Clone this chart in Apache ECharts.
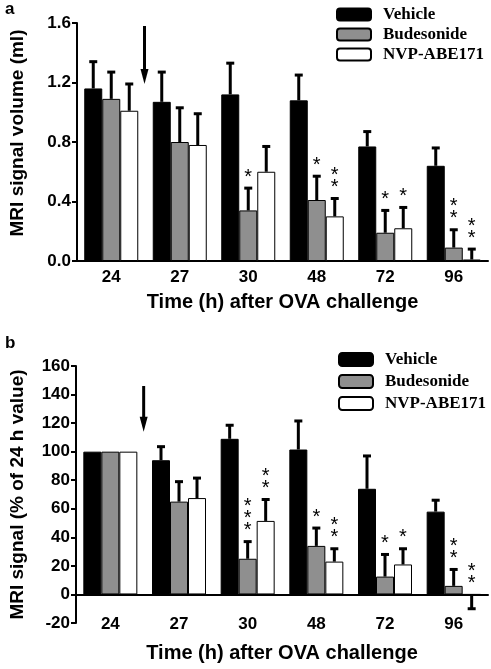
<!DOCTYPE html>
<html>
<head>
<meta charset="utf-8">
<script src="https://cdn.jsdelivr.net/npm/echarts@6/dist/echarts.min.js"></script>
<style>html,body{margin:0;padding:0;background:#fff}#c{width:491px;height:669px}</style>
</head>
<body>
<div id="c"></div>
<script>
// ---------- data ----------
var categories = ['24', '27', '30', '48', '72', '96'];
var seriesNames = ['Vehicle', 'Budesonide', 'NVP-ABE171'];

// Panel a: MRI signal volume (ml)
var aVehicle = [1.16, 1.07, 1.12, 1.08, 0.77, 0.64];
var aVehicleErr = [1.34, 1.27, 1.33, 1.25, 0.87, 0.76];
var aBud = [1.09, 0.80, 0.34, 0.41, 0.19, 0.09];
var aBudErr = [1.27, 1.03, 0.49, 0.57, 0.34, 0.21];
var aNvp = [1.01, 0.78, 0.60, 0.30, 0.22, 0.01];
var aNvpErr = [1.19, 0.99, 0.77, 0.42, 0.36, 0.08];
var aBudSig = ['', '', '*', '*', '*', '**'];
var aNvpSig = ['', '', '', '**', '*', '**'];
var aArrow = [1.58, 1.19];
var aTicks = [0, 1.6, 0.4];

// Panel b: MRI signal (% of 24 h value)
var bVehicle = [100, 94, 109, 101.5, 74, 58];
var bVehicleErr = [100, 103.5, 118.5, 121.5, 97, 66];
var bBud = [100, 65, 25, 34, 12.5, 6];
var bBudErr = [100, 79, 37, 46.5, 28, 17.5];
var bNvp = [100, 67.5, 51.5, 23, 21, 0];
var bNvpErr = [100, 81.5, 66.5, 32, 32, -10];
var bBudSig = ['', '', '***', '*', '*', '**'];
var bNvpSig = ['', '', '**', '**', '*', '**'];
var bArrow = [146, 114];
var bTicks = [-20, 160, 20];

// ---------- styling ----------
var SANS = 'Liberation Sans, Arial, sans-serif';
var SERIF = 'Liberation Serif, Times New Roman, serif';
var BAR_W = 18;
var colors = ['#000000', '#8f8f8f', '#ffffff'];

function errSeries(name, gi, idx, vals, errs, sigs) {
  var data = vals.map(function (v, i) { return [i, v, errs[i]]; });
  return {
    type: 'custom', name: name + ' err', xAxisIndex: gi === 0 ? 0 : 1, yAxisIndex: gi,
    data: data, encode: { x: 0, y: [1, 2] }, z: 5, silent: true,
    renderItem: function (params, api) {
      var ci = api.value(0), v = api.value(1), e = api.value(2);
      var c = api.coord([ci, v]);
      var t = api.coord([ci, e]);
      var x = c[0] + (idx - 1) * BAR_W;
      var ch = [];
      if (e !== v) {
        ch.push({ type: 'line', shape: { x1: x, y1: c[1], x2: x, y2: t[1] }, style: { stroke: '#000', lineWidth: 3 } });
        ch.push({ type: 'line', shape: { x1: x - 4, y1: t[1], x2: x + 4, y2: t[1] }, style: { stroke: '#000', lineWidth: 3 } });
      }
      var s = sigs ? sigs[params.dataIndex] : '';
      if (s) {
        ch.push({ type: 'text', x: x, y: Math.min(c[1], t[1]) - 5,
          style: { text: s.split('').join('\n'), fill: '#000', font: '20px ' + SANS,
            lineHeight: 12, align: 'center', verticalAlign: 'bottom' } });
      }
      return { type: 'group', children: ch };
    }
  };
}

function barSeries(name, gi, idx, vals) {
  return {
    type: 'bar', name: name, xAxisIndex: gi === 0 ? 0 : 1, yAxisIndex: gi,
    data: vals, barWidth: BAR_W, barGap: '0%',
    itemStyle: { color: colors[idx], borderColor: '#000', borderWidth: 1 }
  };
}

var axisLabelStyle = { color: '#000', fontFamily: SANS, fontWeight: 'bold', fontSize: 17 };
var xNameStyle = { color: '#000', fontFamily: SANS, fontWeight: 'bold', fontSize: 20 };
var yNameStyle = { color: '#000', fontFamily: SANS, fontWeight: 'bold', fontSize: 19 };
var lineStyle = { color: '#000', width: 2 };

var chart = echarts.init(document.getElementById('c'), null, { renderer: 'canvas' });
var option = {
  animation: false,
  backgroundColor: '#fff',
  title: [
    { text: 'a', left: 0, top: -4, textStyle: { fontFamily: SANS, fontWeight: 'bold', fontSize: 17, color: '#000' } },
    { text: 'b', left: 0, top: 330, textStyle: { fontFamily: SANS, fontWeight: 'bold', fontSize: 17, color: '#000' } }
  ],
  legend: [
    { data: seriesNames, orient: 'vertical', left: 331, top: 1, itemWidth: 34, itemHeight: 12, itemGap: 3,
      selectedMode: false,
      textStyle: { fontFamily: SERIF, fontWeight: 'bold', fontSize: 17, color: '#000', padding: [0, 0, 0, 7] } },
    { data: seriesNames, orient: 'vertical', left: 333, top: 346, itemWidth: 34, itemHeight: 13, itemGap: 5,
      selectedMode: false,
      textStyle: { fontFamily: SERIF, fontWeight: 'bold', fontSize: 17, color: '#000', padding: [0, 0, 0, 7] } }
  ],
  grid: [
    { left: 73, top: 23, width: 415, height: 238 },
    { left: 71, top: 366, width: 417, height: 257 }
  ],
  xAxis: [
    { gridIndex: 0, type: 'category', data: categories,
      axisLine: { lineStyle: lineStyle }, axisTick: { length: 4, lineStyle: { width: 2, color: '#000' } },
      axisLabel: Object.assign({ margin: 8 }, axisLabelStyle),
      name: 'Time (h) after OVA challenge', nameLocation: 'middle', nameGap: 31, nameTextStyle: xNameStyle },
    { gridIndex: 1, type: 'category', data: categories,
      axisLine: { onZero: true, lineStyle: lineStyle }, axisTick: { length: 4, lineStyle: { width: 2, color: '#000' } },
      axisLabel: { show: false } },
    { gridIndex: 1, type: 'category', data: categories, position: 'bottom',
      axisLine: { show: false, onZero: false }, axisTick: { show: false },
      axisLabel: Object.assign({ margin: -7 }, axisLabelStyle),
      name: 'Time (h) after OVA challenge', nameLocation: 'middle', nameGap: 20, nameTextStyle: xNameStyle }
  ],
  yAxis: [
    { gridIndex: 0, type: 'value', min: aTicks[0], max: aTicks[1], interval: aTicks[2],
      axisLine: { show: true, lineStyle: lineStyle }, axisTick: { show: true, length: 5, lineStyle: { width: 2, color: '#000' } },
      splitLine: { show: false },
      axisLabel: Object.assign({ margin: 6, formatter: function (v) { return v.toFixed(1); } }, axisLabelStyle),
      name: 'MRI signal volume (ml)', nameLocation: 'middle', nameGap: 50,
      nameTextStyle: Object.assign({ padding: [0, 0, 0, 18] }, yNameStyle) },
    { gridIndex: 1, type: 'value', min: bTicks[0], max: bTicks[1], interval: bTicks[2],
      axisLine: { show: true, onZero: false, lineStyle: lineStyle }, axisTick: { show: true, length: 5, lineStyle: { width: 2, color: '#000' } },
      splitLine: { show: false },
      axisLabel: Object.assign({ margin: 6 }, axisLabelStyle),
      name: 'MRI signal (% of 24 h value)', nameLocation: 'middle', nameGap: 49, nameTextStyle: yNameStyle }
  ],
  series: [
    barSeries(seriesNames[0], 0, 0, aVehicle),
    barSeries(seriesNames[1], 0, 1, aBud),
    barSeries(seriesNames[2], 0, 2, aNvp),
    errSeries(seriesNames[0], 0, 0, aVehicle, aVehicleErr, null),
    errSeries(seriesNames[1], 0, 1, aBud, aBudErr, aBudSig),
    errSeries(seriesNames[2], 0, 2, aNvp, aNvpErr, aNvpSig),
    barSeries(seriesNames[0], 1, 0, bVehicle),
    barSeries(seriesNames[1], 1, 1, bBud),
    barSeries(seriesNames[2], 1, 2, bNvp),
    errSeries(seriesNames[0], 1, 0, bVehicle, bVehicleErr, null),
    errSeries(seriesNames[1], 1, 1, bBud, bBudErr, bBudSig),
    errSeries(seriesNames[2], 1, 2, bNvp, bNvpErr, bNvpSig)
  ]
};
chart.setOption(option);

function arrowGraphic(gi, xi, vals) {
  var p0 = chart.convertToPixel({ xAxisIndex: xi, yAxisIndex: gi }, [0, vals[0]]);
  var p1 = chart.convertToPixel({ xAxisIndex: xi, yAxisIndex: gi }, [1, vals[1]]);
  var x = (p0[0] + p1[0]) / 2 - 1;
  var y0 = p0[1], y1 = p1[1];
  return [
    { type: 'line', shape: { x1: x, y1: y0, x2: x, y2: y1 - 10 }, style: { stroke: '#000', lineWidth: 3 } },
    { type: 'polygon', shape: { points: [[x - 4, y1 - 15], [x + 4, y1 - 15], [x, y1]] }, style: { fill: '#000' } }
  ];
}
chart.setOption({ graphic: arrowGraphic(0, 0, aArrow).concat(arrowGraphic(1, 1, bArrow)) });
</script>
</body>
</html>
